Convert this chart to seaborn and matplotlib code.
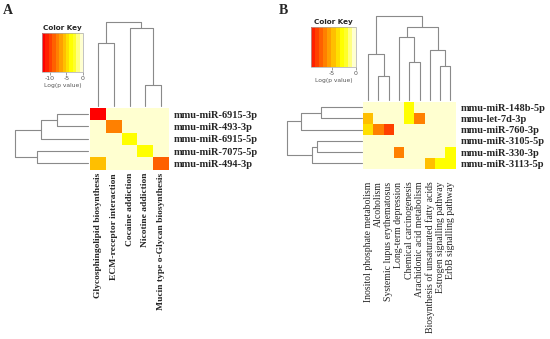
import numpy as np
import pandas as pd
import matplotlib
matplotlib.use("Agg")
import matplotlib as mpl
import matplotlib.pyplot as plt
import seaborn as sns
from matplotlib.colors import ListedColormap, BoundaryNorm

# heat.colors-like palette, red -> cream
HEAT = ["#FF0000", "#FF2000", "#FF4000", "#FF6000", "#FF8000", "#FF9F00",
        "#FFBF00", "#FFDF00", "#FFFF00", "#FFFF2A", "#FFFF80", "#FFFFD0"]

A_rows = ["mmu-miR-6915-3p", "mmu-miR-493-3p", "mmu-miR-6915-5p",
          "mmu-miR-7075-5p", "mmu-miR-494-3p"]
A_cols = ["Glycosphingolipid biosynthesis", "ECM-receptor interaction",
          "Cocaine addiction", "Nicotine addiction",
          "Mucin type o-Glycan biosynthesis"]
A_vals = [
    [-11.8, -0.3, -0.3, -0.3, -0.3],
    [-0.3, -7.5, -0.3, -0.3, -0.3],
    [-0.3, -0.3, -3.5, -0.3, -0.3],
    [-0.3, -0.3, -0.3, -3.5, -0.3],
    [-5.6, -0.3, -0.3, -0.3, -8.8],
]
A_key_min = -12.3

B_rows = ["mmu-miR-148b-5p", "mmu-let-7d-3p", "mmu-miR-760-3p",
          "mmu-miR-3105-5p", "mmu-miR-330-3p", "mmu-miR-3113-5p"]
B_cols = ["Inositol phosphate metabolism", "Alcoholism",
          "Systemic lupus erythematosus", "Long-term depression",
          "Chemical carcinogenesis", "Arachidonic acid metabolism",
          "Biosynthesis of unsaturated fatty acids",
          "Estrogen signalling pathway", "ErbB signalling pathway"]
B_vals = [
    [-0.3, -0.3, -0.3, -0.3, -3.0, -0.3, -0.3, -0.3, -0.3],
    [-4.7, -0.3, -0.3, -0.3, -3.0, -6.5, -0.3, -0.3, -0.3],
    [-3.8, -6.5, -8.0, -0.3, -0.3, -0.3, -0.3, -0.3, -0.3],
    [-0.3, -0.3, -0.3, -0.3, -0.3, -0.3, -0.3, -0.3, -0.3],
    [-0.3, -0.3, -0.3, -6.2, -0.3, -0.3, -0.3, -0.3, -3.0],
    [-0.3, -0.3, -0.3, -0.3, -0.3, -0.3, -5.0, -3.0, -3.0],
]
B_key_min = -9.4

# dendrograms: (left node, right node, height), new node ids follow the leaves
A_col_merges = [(3, 4, 0.26), (0, 1, 0.75), (2, 5, 0.93), (6, 7, 1.0)]
A_row_merges = [(0, 1, 0.42), (5, 2, 0.64), (3, 4, 0.70), (6, 7, 1.0)]
B_col_merges = [(1, 2, 0.29), (7, 8, 0.41), (4, 5, 0.45), (0, 9, 0.55),
                (6, 10, 0.60), (3, 11, 0.75), (14, 13, 0.87), (12, 15, 1.0)]
B_row_merges = [(0, 1, 0.55), (3, 4, 0.60), (7, 5, 0.67), (6, 2, 0.81),
                (9, 8, 1.0)]

W, H = 550, 339
sns.set_style("white")
plt.rcParams["font.family"] = ["DejaVu Sans"]
plt.rcParams["axes.unicode_minus"] = False
SERIF = ["Liberation Serif", "DejaVu Serif"]
LINE = "#8a8a8a"

fig = plt.figure(figsize=(W / 100, H / 100), dpi=100)


def px_axes(x0, y0, x1, y1):
    return fig.add_axes([x0 / W, 1 - y1 / H, (x1 - x0) / W, (y1 - y0) / H])


def draw_dendro(ax, merges, n, side):
    pos = {i: i + 0.5 for i in range(n)}
    hgt = {i: 0.0 for i in range(n)}
    for k, (a, b, h) in enumerate(merges):
        p = [pos[a], pos[a], pos[b], pos[b]]
        q = [hgt[a], h, h, hgt[b]]
        if side == "top":
            ax.plot(p, q, color=LINE, lw=0.8, clip_on=False)
        else:
            ax.plot(q, p, color=LINE, lw=0.8, clip_on=False)
        pos[n + k] = (pos[a] + pos[b]) / 2
        hgt[n + k] = h
    if side == "top":
        ax.set_xlim(0, n)
        ax.set_ylim(0, 1)
    else:
        ax.set_xlim(1, 0)
        ax.set_ylim(n, 0)
    ax.axis("off")


def draw_key(ax, cmap, norm, ticks):
    sm = mpl.cm.ScalarMappable(norm=norm, cmap=cmap)
    cb = fig.colorbar(sm, cax=ax, orientation="horizontal")
    cb.outline.set_edgecolor("#aaaaaa")
    cb.outline.set_linewidth(0.5)
    cb.set_ticks(ticks)
    cb.minorticks_off()
    ax.tick_params(labelsize=4.5, length=2, width=0.4, colors="#555555", pad=1)
    ax.set_xlabel("Log(p value)", fontsize=4.3, color="#555555", labelpad=1)
    ax.set_title("Color Key", fontsize=5.2, fontweight="bold", pad=2.5)


def panel(vals, rows, cols, kmin, colors, box, cdend, rdend, key,
          col_merges, row_merges, col_kw, xpad, ypad):
    cmap = ListedColormap(colors)
    norm = BoundaryNorm(np.linspace(kmin, 0, len(colors) + 1), len(colors))
    df = pd.DataFrame(vals, index=rows, columns=cols)

    ax = px_axes(*box)
    sns.heatmap(df, ax=ax, cmap=cmap, norm=norm, cbar=False,
                xticklabels=True, yticklabels=True)
    ax.yaxis.tick_right()
    ax.tick_params(length=0)
    ax.tick_params(axis="x", pad=xpad)
    ax.tick_params(axis="y", pad=ypad)
    ax.set_yticklabels(rows, rotation=0, fontsize=7.5, fontweight="bold",
                       family=SERIF)
    ax.set_xticklabels(cols, rotation=90, family=SERIF, **col_kw)
    ax.set_xlabel("")
    ax.set_ylabel("")

    draw_dendro(px_axes(*cdend), col_merges, len(cols), "top")
    draw_dendro(px_axes(*rdend), row_merges, len(rows), "left")

    ticks = [-10, -5, 0] if kmin < -10 else [-5, 0]
    draw_key(px_axes(*key), cmap, norm, ticks)


panel(A_vals, A_rows, A_cols, A_key_min, HEAT,
      (90, 108, 169, 169.5), (90, 22, 169, 106.5), (15, 108, 88, 169.5),
      (42, 33, 83, 72), A_col_merges, A_row_merges,
      dict(fontsize=6.8, fontweight="bold"), 2.5, 3.5)

panel(B_vals, B_rows, B_cols, B_key_min, HEAT[1:],
      (363, 101.5, 455.5, 169), (363, 16, 455.5, 100), (287, 101.5, 361.5, 169),
      (311, 27, 356, 67), B_col_merges, B_row_merges,
      dict(fontsize=7.0), 9, 4)

fig.text(8 / W, 1 - 10 / H, "A", fontsize=10, fontweight="bold",
         family=SERIF, ha="center", va="center")
fig.text(283 / W, 1 - 10 / H, "B", fontsize=10, fontweight="bold",
         family=SERIF, ha="center", va="center")

fig.savefig("out.png", dpi=100)
